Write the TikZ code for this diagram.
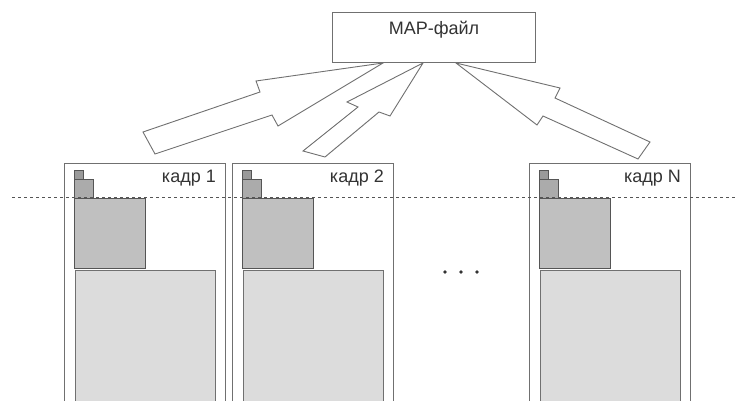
\documentclass[tikz,border=0pt]{standalone}
\usepackage{fontspec}
\setmainfont{Liberation Sans}
\definecolor{edge}{HTML}{707070}
\definecolor{darkedge}{HTML}{555555}
\definecolor{tinyfill}{HTML}{9A9A9A}
\definecolor{midfill}{HTML}{ABABAB}
\definecolor{darkfill}{HTML}{C0C0C0}
\definecolor{lightfill}{HTML}{DCDCDC}
\definecolor{textc}{HTML}{333333}
\begin{document}
\begin{tikzpicture}[x=1pt,y=-1pt,line join=miter,
  mapbox/.style={draw=edge,line width=1pt,fill=white,inner sep=0pt},
  framebox/.style={draw=edge,line width=0.9pt,inner sep=0pt,anchor=north west},
  blockarrow/.style={draw=edge,line width=0.9pt,fill=white},
  tinybox/.style={draw=darkedge,line width=0.8pt,fill=tinyfill},
  midbox/.style={draw=darkedge,line width=0.8pt,fill=midfill},
  darkbox/.style={draw=darkedge,line width=0.9pt,fill=darkfill},
  lightbox/.style={draw=edge,line width=0.9pt,fill=lightfill},
  lbl/.style={font=\fontsize{18}{20}\selectfont,text=textc,inner sep=0pt},
  guide/.style={draw=darkedge,line width=0.8pt,dash pattern=on 3pt off 3pt}]
\useasboundingbox (0,0) rectangle (737,401);
\clip (0,0) rectangle (737,401);

% frames with content
\foreach \fx/\nm/\lab in {64/f1/кадр 1,232/f2/кадр 2,529/fN/кадр N}{
  \node[framebox,minimum width=161pt,minimum height=260pt] (\nm) at (\fx,163) {};
  \draw[lightbox] (\fx+11,270) rectangle (\fx+151,420);
  \draw[darkbox] (\fx+10,198) rectangle (\fx+81,268);
  \draw[midbox] (\fx+10,179) rectangle (\fx+29,198);
  \draw[tinybox] (\fx+10,170) rectangle (\fx+19,179);
  \node[lbl,anchor=east] (\nm lab) at (\fx+152,178.5) {\lab};
}

% dots
\foreach \dx/\nm in {445/d1,461/d2,477/d3}{
  \fill[textc] (\dx,272) circle (1.8pt);
}

% block arrows
\draw[blockarrow] (383,63) -- (256,81) -- (260,92) -- (143,132) -- (155,154) -- (272,115) -- (278,126) -- cycle;
\draw[blockarrow] (423,63) -- (347,102) -- (358,107) -- (303,151) -- (325,157) -- (379,112) -- (390,116) -- cycle;
\draw[blockarrow] (456,63) -- (560,88) -- (555,98) -- (650,142) -- (638,159) -- (543,116) -- (537,125) -- cycle;

% MAP box
\node[mapbox,minimum width=203pt,minimum height=50pt] (map) at (433.5,38) {};
\node[lbl] (maplab) at (434,30) {MAP-файл};

% dashed guide line
\coordinate (gl) at (12,197);
\coordinate (gr) at (737,197);
\draw[guide] (gl) -- (gr);
\end{tikzpicture}
\end{document}
